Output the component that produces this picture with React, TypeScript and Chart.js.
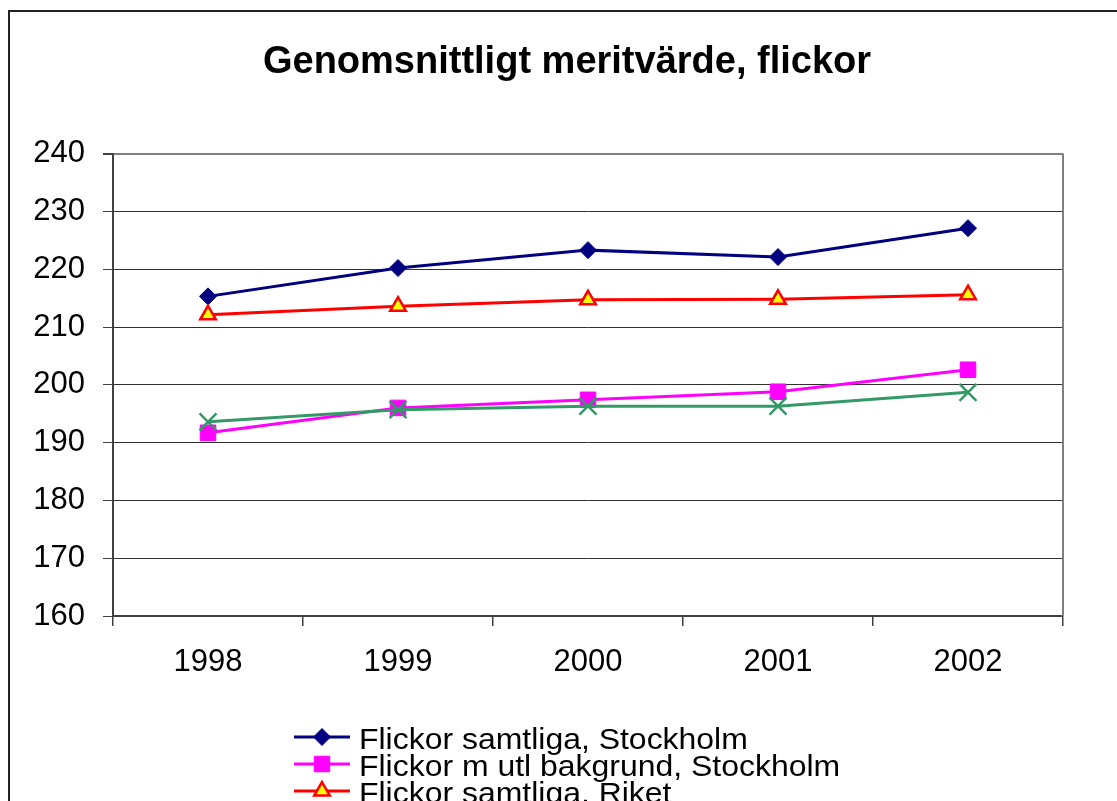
import React, { useEffect, useRef } from 'react';
import { Chart, registerables } from 'chart.js';

Chart.register(...registerables);

// ---- data ----
const years = ['1998', '1999', '2000', '2001', '2002'];
const samtligaStockholm = [215.3, 220.2, 223.3, 222.1, 227.1];
const utlBakgrundStockholm = [191.7, 196.0, 197.4, 198.8, 202.6];
const samtligaRiket = [212.1, 213.6, 214.7, 214.8, 215.6];
const utlBakgrundRiket = [193.6, 195.7, 196.3, 196.3, 198.7];
const seriesLabels = [
  'Flickor samtliga, Stockholm',
  'Flickor m utl bakgrund, Stockholm',
  'Flickor samtliga, Riket',
  'Flickor m utl bakgrund, Riket',
];
const yMin = 160;
const yMax = 240;
const yStep = 10;
const titleText = 'Genomsnittligt meritvärde, flickor';

const FONT = '"Liberation Sans", Arial, Helvetica, sans-serif';

function drawMarker(ctx: CanvasRenderingContext2D, ds: any, x: number, y: number) {
  const r = ds.pointRadius;
  ctx.save();
  ctx.fillStyle = ds.pointBackgroundColor;
  ctx.strokeStyle = ds.pointBorderColor;
  ctx.lineWidth = ds.pointBorderWidth;
  ctx.beginPath();
  if (ds.pointStyle === 'rectRot') {
    ctx.moveTo(x, y - r);
    ctx.lineTo(x + r, y);
    ctx.lineTo(x, y + r);
    ctx.lineTo(x - r, y);
    ctx.closePath();
    ctx.fill();
    ctx.stroke();
  } else if (ds.pointStyle === 'rect') {
    const s = Math.SQRT1_2 * r;
    ctx.rect(x - s, y - s, 2 * s, 2 * s);
    ctx.fill();
    ctx.stroke();
  } else if (ds.pointStyle === 'triangle') {
    let a = 0;
    ctx.moveTo(x + Math.sin(a) * r, y - Math.cos(a) * r);
    a += (2 * Math.PI) / 3;
    ctx.lineTo(x + Math.sin(a) * r, y - Math.cos(a) * r);
    a += (2 * Math.PI) / 3;
    ctx.lineTo(x + Math.sin(a) * r, y - Math.cos(a) * r);
    ctx.closePath();
    ctx.fill();
    ctx.stroke();
  } else if (ds.pointStyle === 'crossRot') {
    const o = Math.SQRT1_2 * r;
    ctx.moveTo(x - o, y - o);
    ctx.lineTo(x + o, y + o);
    ctx.moveTo(x - o, y + o);
    ctx.lineTo(x + o, y - o);
    ctx.stroke();
  }
  ctx.restore();
}

const excelLegend = {
  id: 'excelLegend',
  afterDraw(chart: any) {
    const ctx: CanvasRenderingContext2D = chart.ctx;
    const startY = chart.chartArea.bottom + 121;
    chart.data.datasets.forEach((ds: any, i: number) => {
      const y = startY + i * 27;
      ctx.save();
      ctx.strokeStyle = ds.borderColor;
      ctx.lineWidth = ds.borderWidth;
      ctx.beginPath();
      ctx.moveTo(284, y);
      ctx.lineTo(340, y);
      ctx.stroke();
      ctx.restore();
      drawMarker(ctx, ds, 312, y);
      ctx.save();
      ctx.fillStyle = '#000';
      ctx.font = `30px ${FONT}`;
      ctx.textBaseline = 'alphabetic';
      ctx.textAlign = 'left';
      ctx.translate(349, y + 11.5);
      ctx.scale(1.065, 1);
      ctx.fillText(ds.label, 0, 0);
      ctx.restore();
    });
  },
};

const plotFrame = {
  id: 'plotFrame',
  beforeDatasetsDraw(chart: any) {
    const { ctx, chartArea } = chart;
    ctx.save();
    ctx.strokeStyle = '#808080';
    ctx.lineWidth = 2;
    ctx.beginPath();
    ctx.moveTo(chartArea.right, chartArea.top);
    ctx.lineTo(chartArea.right, chartArea.bottom);
    ctx.stroke();
    ctx.restore();
  },
};

export default function App() {
  const canvasRef = useRef<HTMLCanvasElement | null>(null);

  useEffect(() => {
    if (!canvasRef.current) return;
    const chart = new Chart(canvasRef.current, {
      type: 'line',
      data: {
        labels: years,
        datasets: [
          {
            label: seriesLabels[0],
            data: samtligaStockholm,
            borderColor: '#000080',
            backgroundColor: '#000080',
            borderWidth: 3,
            pointStyle: 'rectRot',
            pointRadius: 8.5,
            pointBackgroundColor: '#000080',
            pointBorderColor: '#000080',
            pointBorderWidth: 1,
            tension: 0,
            order: 4,
          },
          {
            label: seriesLabels[1],
            data: utlBakgrundStockholm,
            borderColor: '#FF00FF',
            backgroundColor: '#FF00FF',
            borderWidth: 3,
            pointStyle: 'rect',
            pointRadius: 11,
            pointBackgroundColor: '#FF00FF',
            pointBorderColor: '#FF00FF',
            pointBorderWidth: 1,
            tension: 0,
            order: 3,
          },
          {
            label: seriesLabels[2],
            data: samtligaRiket,
            borderColor: '#FF0000',
            backgroundColor: '#FFFF00',
            borderWidth: 3,
            pointStyle: 'triangle',
            pointRadius: 9,
            pointBackgroundColor: '#FFFF00',
            pointBorderColor: '#FF0000',
            pointBorderWidth: 2.5,
            tension: 0,
            order: 2,
          },
          {
            label: seriesLabels[3],
            data: utlBakgrundRiket,
            borderColor: '#339966',
            backgroundColor: '#339966',
            borderWidth: 3,
            pointStyle: 'crossRot',
            pointRadius: 12,
            pointBackgroundColor: '#339966',
            pointBorderColor: '#339966',
            pointBorderWidth: 2.5,
            tension: 0,
            order: 1,
          },
        ],
      },
      options: {
        responsive: false,
        animation: false,
        devicePixelRatio: 1,
        layout: { padding: { left: 0, right: 0, top: 0, bottom: 116 } },
        plugins: {
          legend: { display: false },
          tooltip: { enabled: false },
          title: {
            display: true,
            text: titleText,
            color: '#000',
            font: { family: FONT, size: 38, weight: 'bold', lineHeight: 1.2 },
            padding: { top: 28, bottom: 68 },
          },
        },
        scales: {
          x: {
            offset: true,
            grid: {
              offset: true,
              drawOnChartArea: false,
              drawTicks: true,
              tickLength: 10,
              color: '#404040',
              lineWidth: 1.5,
            },
            border: { color: '#404040', width: 2 },
            ticks: {
              color: '#000',
              font: { family: FONT, size: 31 },
              padding: 18,
              maxRotation: 0,
              autoSkip: false,
            },
            afterFit: (s: any) => {
              s.height = 80;
            },
          },
          y: {
            min: yMin,
            max: yMax,
            ticks: {
              stepSize: yStep,
              color: '#000',
              font: { family: FONT, size: 31 },
              padding: 18,
            },
            grid: {
              color: (c: any) => (c.tick && c.tick.value === yMax ? '#808080' : '#303030'),
              lineWidth: (c: any) => (c.tick && c.tick.value === yMax ? 2 : 1),
              tickColor: '#404040',
              tickLength: 10,
            },
            border: { color: '#404040', width: 2 },
            afterFit: (s: any) => {
              s.width = 103;
            },
          },
          spacer: {
            type: 'linear',
            position: 'right',
            display: true,
            grid: { display: false, drawTicks: false },
            border: { display: false },
            ticks: { display: false },
            afterFit: (s: any) => {
              s.width = 61;
            },
          },
        },
      },
      plugins: [plotFrame, excelLegend],
    } as any);
    return () => chart.destroy();
  }, []);

  return (
    <div
      style={{
        position: 'fixed',
        left: 8,
        top: 8,
        width: 1109,
        height: 793,
        overflow: 'hidden',
        background: '#fff',
      }}
    >
      <div
        style={{
          marginTop: 2,
          borderTop: '2px solid #222',
          borderLeft: '2px solid #222',
          width: 1130,
          height: 820,
        }}
      >
        <canvas ref={canvasRef} width={1114} height={800} style={{ display: 'block' }} />
      </div>
    </div>
  );
}
